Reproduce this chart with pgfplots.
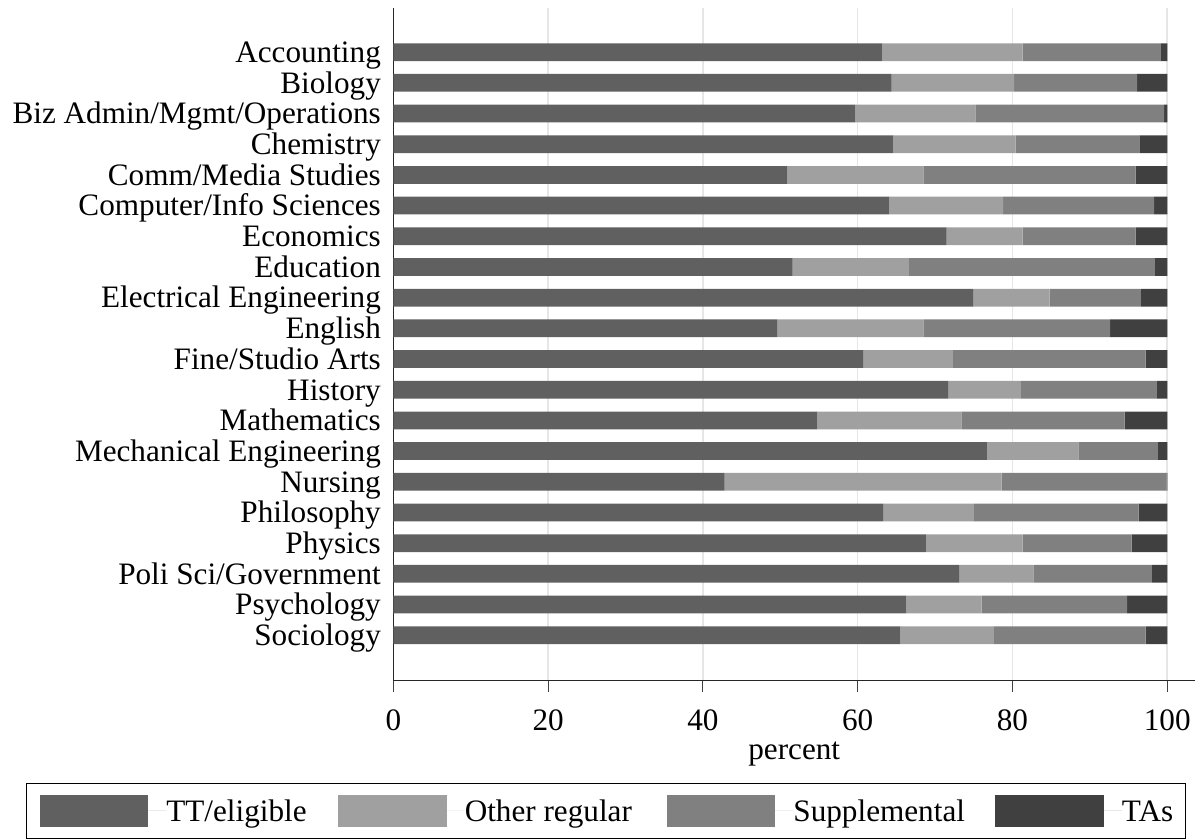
\documentclass[border=0pt]{standalone}
\usepackage{fontspec}
\setmainfont{Liberation Serif}
\usepackage{pgfplots}
\usepackage{pgfplotstable}
\pgfplotsset{compat=1.18}

\definecolor{ctt}{HTML}{606060}
\definecolor{coth}{HTML}{A0A0A0}
\definecolor{csup}{HTML}{808080}
\definecolor{cta}{HTML}{404040}
\definecolor{cgrid}{HTML}{E6E6E6}

% share of teaching by staff type, per field
\pgfplotstableread{
idx tt   other supp ta
1   63.2 18.1  17.8 0.9
2   64.4 15.8  15.9 3.9
3   59.7 15.5  24.4 0.4
4   64.6 15.8  16.0 3.6
5   50.9 17.6  27.4 4.1
6   64.1 14.7  19.5 1.7
7   71.5 9.8   14.6 4.1
8   51.6 15.0  31.8 1.6
9   74.9 9.9   11.8 3.4
10  49.6 18.9  24.1 7.4
11  60.7 11.6  24.9 2.8
12  71.7 9.4   17.5 1.4
13  54.8 18.6  21.1 5.5
14  76.7 11.8  10.3 1.2
15  42.8 35.8  21.3 0.1
16  63.3 11.7  21.3 3.7
17  68.8 12.5  14.1 4.6
18  73.1 9.6   15.3 2.0
19  66.3 9.7   18.8 5.2
20  65.5 12.1  19.6 2.8
}\fields

\begin{document}
\begin{tikzpicture}
\fontsize{23.4}{28}\selectfont
\begin{axis}[
    name=ax,
    scale only axis,
    width=601.4pt, height=504.3pt,
    xbar stacked,
    bar width=0.577,
    xmin=0, xmax=103.6,
    ymin=-0.43, ymax=21.48,
    y dir=reverse,
    axis x line=bottom, axis y line=left,
    axis line style={-, black!85, line width=0.8pt},
    xtick={0,20,40,60,80,100},
    xmajorgrids,
    major grid style={cgrid, line width=1.2pt},
    tick align=outside,
    major tick length=8.4pt,
    xtick style={black!75, line width=0.8pt},
    ytick={1,...,20},
    ytick style={draw=none},
    yticklabels={Accounting, Biology, Biz Admin/Mgmt/Operations, Chemistry,
        Comm/Media Studies, Computer/Info Sciences, Economics, Education,
        Electrical Engineering, English, Fine/Studio Arts, History, Mathematics,
        Mechanical Engineering, Nursing, Philosophy, Physics,
        Poli Sci/Government, Psychology, Sociology},
    yticklabel style={inner sep=0pt, anchor=east, text height=0.66em, text depth=0pt,
        xshift=-0.75pt, font=\fontsize{23.4}{28}\selectfont},
    xticklabel style={inner sep=0pt, anchor=north, text height=0.66em, text depth=0pt,
        yshift=-13pt, font=\fontsize{23.4}{28}\selectfont},
    /pgf/number format/assume math mode=true,
    xlabel={percent},
    xlabel style={font=\fontsize{23.4}{28}\selectfont, yshift=-1pt},
    every axis plot/.append style={draw=none},
    legend columns=4,
    legend image code/.code={
        \fill[#1] (0pt,-11.75pt) rectangle (81.5pt,11.75pt);
        \path (0pt,0pt) -- (95pt,0pt);},
    legend style={
        at={(-0.4584,-0.1517)}, anchor=north west,
        draw=black, line width=0.8pt,
        inner xsep=10pt, inner ysep=9pt,
        /tikz/column sep=0pt,
        nodes={inner sep=0pt, anchor=west, text height=0.66em, text depth=0pt},
        font=\fontsize{23.4}{28}\selectfont},
]
\addplot[fill=ctt] table[x=tt, y=idx] {\fields};
\addlegendentry{\makebox[128.9pt][l]{TT/eligible}}
\addplot[fill=coth] table[x=other, y=idx] {\fields};
\addlegendentry{\makebox[151.5pt][l]{Other regular}}
\addplot[fill=csup] table[x=supp, y=idx] {\fields};
\addlegendentry{\makebox[151.4pt][l]{Supplemental}}
\addplot[fill=cta] table[x=ta, y=idx] {\fields};
\addlegendentry{\makebox[37.4pt][l]{TAs}}
\end{axis}
\pgfresetboundingbox
\path ([shift={(-295.0pt,-119.5pt)}]ax.south west) rectangle ([shift={(601.3pt,510.5pt)}]ax.south west);
\end{tikzpicture}
\end{document}
